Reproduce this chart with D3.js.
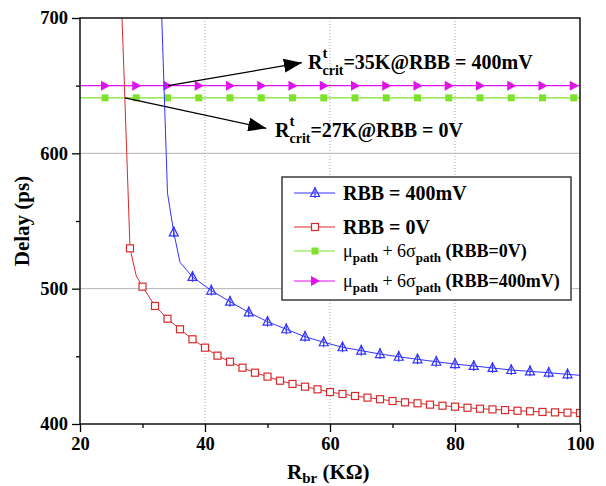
<!DOCTYPE html>
<html>
<head>
<meta charset="utf-8">
<script src="https://cdn.jsdelivr.net/npm/d3@7/dist/d3.min.js"></script>
<style>
  body { margin: 0; background: #fff; }
  svg text { font-family: "Liberation Serif", "Times New Roman", serif; }
</style>
</head>
<body>
<script>
// RBB = 400mV curve (markers every 3K from 35K)
var rbb400X = [33, 34, 35, 36, 38, 41, 44, 47, 50, 53, 56, 59, 62, 65, 68, 71, 74, 77, 80, 83, 86, 89, 92, 95, 98, 100];
var rbb400Y = [712, 570.5, 541.6, 519.5, 508.7, 498.6, 490.4, 482.5, 475.6, 470, 464.5, 460.4, 456.7, 454.2, 451.7, 449.7, 447.8, 446, 444.3, 442.9, 441.4, 439.9, 438.9, 437.9, 436.7, 436];

// RBB = 0V curve (markers every 2K from 28K)
var rbb0X = [26, 27, 28, 29, 30, 32, 34, 36, 38, 40, 42, 44, 46, 48, 50, 52, 54, 56, 58, 60, 62, 64, 66, 68, 70, 72, 74, 76, 78, 80, 82, 84, 86, 88, 90, 92, 94, 96, 98, 100];
var rbb0Y = [790, 664, 529.8, 509.4, 501.5, 487.2, 477.8, 470, 462.6, 456.4, 450.5, 446, 441.6, 437.9, 435, 432, 429.6, 427.6, 425.6, 423.6, 422.2, 420.7, 419.5, 418.3, 417, 416, 415.3, 414.3, 413.5, 412.8, 412, 411.3, 410.8, 410.3, 409.8, 409.4, 408.9, 408.6, 408.4, 408.1];

// mu + 6 sigma thresholds
var thrMarkX = [24, 29, 34, 39, 44, 49, 54, 59, 64, 69, 74, 79, 84, 89, 94, 99];
var thr0 = 641;
var thr400 = 650;

var xTicks = [20, 40, 60, 80, 100];
var xMinor = [30, 50, 70, 90];
var yTicks = [400, 500, 600, 700];
var yMinor = [450, 550, 650];

// annotation arrows: [fromX, fromY, toX, toY] in data units
var arrow400 = [34.1, 650, 55.5, 667];
var arrow0 = [27.2, 641, 49.8, 618.5];

var W = 606, H = 486;
var pL = 80, pR = 580, pT = 18, pB = 424;

var blue = '#3333ff', red = '#d82a2a', green = '#7ee22c', magenta = '#e010f0';

var svg = d3.select('body').append('svg')
  .attr('width', W)
  .attr('height', H);

var x = d3.scaleLinear().domain([20, 100]).range([pL, pR]);
var y = d3.scaleLinear().domain([400, 700]).range([pB, pT]);

var defs = svg.append('defs');
defs.append('clipPath').attr('id', 'plot')
  .append('rect')
  .attr('x', pL).attr('y', pT)
  .attr('width', pR - pL).attr('height', pB - pT);

// grid
svg.selectAll('.hgrid').data([500, 600]).enter().append('line')
  .attr('x1', pL).attr('x2', pR)
  .attr('y1', function(d) { return y(d); })
  .attr('y2', function(d) { return y(d); })
  .attr('stroke', '#b4b4b4').attr('stroke-width', 1);

svg.selectAll('.vgrid').data([40, 60, 80]).enter().append('line')
  .attr('y1', pT).attr('y2', pB)
  .attr('x1', function(d) { return x(d); })
  .attr('x2', function(d) { return x(d); })
  .attr('stroke', '#aaa').attr('stroke-width', 1)
  .attr('stroke-dasharray', '1,2');

var plot = svg.append('g').attr('clip-path', 'url(#plot)');

var line = d3.line()
  .x(function(d) { return x(d[0]); })
  .y(function(d) { return y(d[1]); });

// threshold lines
plot.append('path')
  .attr('d', line([[20, thr0], [100, thr0]]))
  .attr('stroke', green).attr('stroke-width', 1.2).attr('fill', 'none');
plot.append('path')
  .attr('d', line([[20, thr400], [100, thr400]]))
  .attr('stroke', magenta).attr('stroke-width', 1.2).attr('fill', 'none');

plot.selectAll('.gsq').data(thrMarkX).enter().append('rect')
  .attr('x', function(d) { return x(d) - 3.5; })
  .attr('y', y(thr0) - 3.5)
  .attr('width', 7).attr('height', 7)
  .attr('fill', green);

var triRight = 'M-4,-5L5,0L-4,5Z';
plot.selectAll('.mtri').data(thrMarkX).enter().append('path')
  .attr('transform', function(d) { return 'translate(' + x(d) + ',' + y(thr400) + ')'; })
  .attr('d', triRight)
  .attr('fill', magenta);

// curves
var pts400 = rbb400X.map(function(v, i) { return [v, rbb400Y[i]]; });
var pts0 = rbb0X.map(function(v, i) { return [v, rbb0Y[i]]; });

plot.append('path').attr('d', line(pts0))
  .attr('stroke', red).attr('stroke-width', 1).attr('fill', 'none');
plot.append('path').attr('d', line(pts400))
  .attr('stroke', blue).attr('stroke-width', 1).attr('fill', 'none');

var triUp = 'M0,-5L4.5,3.5L-4.5,3.5Z';

function drawTri(g, cx, cy) {
  var m = g.append('g').attr('transform', 'translate(' + cx + ',' + cy + ')');
  m.append('path').attr('d', triUp).attr('fill', 'none')
    .attr('stroke', blue).attr('stroke-width', 1.2);
  m.append('line').attr('x1', 0).attr('x2', 0).attr('y1', -6).attr('y2', 5)
    .attr('stroke', blue).attr('stroke-width', 1.2);
}

function drawSq(g, cx, cy) {
  g.append('rect')
    .attr('x', cx - 3.5).attr('y', cy - 3.5)
    .attr('width', 7).attr('height', 7)
    .attr('fill', '#fff').attr('stroke', red).attr('stroke-width', 1.2);
}

pts0.forEach(function(p) {
  if (p[0] >= 28 && p[0] % 2 === 0) drawSq(plot, x(p[0]), y(p[1]));
});
pts400.forEach(function(p) {
  if (p[0] >= 35 && (p[0] - 35) % 3 === 0) drawTri(plot, x(p[0]), y(p[1]));
});

// arrows
defs.append('marker').attr('id', 'head')
  .attr('viewBox', '0 0 18 14')
  .attr('refX', 18).attr('refY', 7)
  .attr('markerWidth', 18).attr('markerHeight', 14)
  .attr('markerUnits', 'userSpaceOnUse')
  .attr('orient', 'auto')
  .append('path').attr('d', 'M0,0L18,7L0,14Z').attr('fill', '#000');

[arrow400, arrow0].forEach(function(a) {
  svg.append('line')
    .attr('x1', x(a[0])).attr('y1', y(a[1]))
    .attr('x2', x(a[2])).attr('y2', y(a[3]))
    .attr('stroke', '#000').attr('stroke-width', 1.3)
    .attr('marker-end', 'url(#head)');
});

// text made of runs placed one after another
function runs(g, x0, y0, parts) {
  var cx = x0;
  parts.forEach(function(p) {
    var t = g.append('text')
      .attr('x', cx).attr('y', y0 + (p.dy || 0))
      .attr('font-size', p.size)
      .attr('font-weight', p.bold === false ? 'normal' : 'bold')
      .attr('fill', '#000')
      .style('white-space', 'pre')
      .text(p.t);
    cx += t.node().getComputedTextLength();
  });
}

function rcrit(g, x0, y0, rest) {
  var r = g.append('text').attr('x', x0).attr('y', y0)
    .attr('font-size', 20).attr('font-weight', 'bold').text('R');
  var cx = x0 + r.node().getComputedTextLength();
  var t = g.append('text').attr('x', cx).attr('y', y0 - 11)
    .attr('font-size', 15).attr('font-weight', 'bold').text('t');
  var c = g.append('text').attr('x', cx).attr('y', y0 + 6)
    .attr('font-size', 14).attr('font-weight', 'bold').text('crit');
  cx += Math.max(t.node().getComputedTextLength(), c.node().getComputedTextLength());
  g.append('text').attr('x', cx).attr('y', y0)
    .attr('font-size', 20).attr('font-weight', 'bold')
    .style('white-space', 'pre').text(rest);
}

rcrit(svg, 308, 69, '=35K@RBB = 400mV');
rcrit(svg, 275, 137, '=27K@RBB = 0V');

// axes
var yAxis = d3.axisLeft(y).tickValues(yTicks).tickSize(8).tickPadding(4).tickFormat(d3.format('d'));
var gy = svg.append('g').attr('transform', 'translate(' + pL + ',0)').call(yAxis);
var gyMinor = svg.append('g').attr('transform', 'translate(' + pL + ',0)')
  .call(d3.axisLeft(y).tickValues(yMinor).tickSize(4).tickFormat(''));

var xAxis = d3.axisBottom(x).tickValues(xTicks).tickSize(8).tickPadding(5).tickFormat(d3.format('d'));
var gx = svg.append('g').attr('transform', 'translate(0,' + pB + ')').call(xAxis);
var gxMinor = svg.append('g').attr('transform', 'translate(0,' + pB + ')')
  .call(d3.axisBottom(x).tickValues(xMinor).tickSize(4).tickFormat(''));

[gy, gyMinor, gx, gxMinor].forEach(function(g) {
  g.select('.domain').remove();
  g.selectAll('line').attr('stroke', '#000').attr('stroke-width', 1.3);
  g.selectAll('text')
    .attr('font-family', '"Liberation Serif", "Times New Roman", serif')
    .attr('font-size', 18.5).attr('font-weight', 'bold').attr('fill', '#000');
});

// frame
svg.append('rect')
  .attr('x', pL).attr('y', pT)
  .attr('width', pR - pL).attr('height', pB - pT)
  .attr('fill', 'none').attr('stroke', '#111').attr('stroke-width', 1.5);

// axis titles
svg.append('text')
  .attr('transform', 'translate(29,221) rotate(-90)')
  .attr('text-anchor', 'middle')
  .attr('font-size', 21).attr('font-weight', 'bold')
  .text('Delay (ps)');

runs(svg, 287, 479, [
  { t: 'R', size: 21 },
  { t: 'br', size: 15, dy: 4 },
  { t: ' (K\u03A9)', size: 21 }
]);

// legend
var lg = svg.append('g');
lg.append('rect')
  .attr('x', 282).attr('y', 177).attr('width', 289).attr('height', 123)
  .attr('fill', '#fff').attr('stroke', '#3a3a3a').attr('stroke-width', 1.5);

var lx1 = 294, lx2 = 335, lm = 315, tx = 343;

lg.append('line').attr('x1', lx1).attr('x2', lx2).attr('y1', 193).attr('y2', 193)
  .attr('stroke', blue).attr('stroke-width', 1);
drawTri(lg, lm, 193);
runs(lg, tx, 200, [{ t: 'RBB = 400mV', size: 20 }]);

lg.append('line').attr('x1', lx1).attr('x2', lx2).attr('y1', 227).attr('y2', 227)
  .attr('stroke', red).attr('stroke-width', 1);
drawSq(lg, lm, 227);
runs(lg, tx, 234, [{ t: 'RBB = 0V', size: 20 }]);

lg.append('line').attr('x1', lx1).attr('x2', lx2).attr('y1', 251).attr('y2', 251)
  .attr('stroke', green).attr('stroke-width', 1.2);
lg.append('rect').attr('x', lm - 3.5).attr('y', 251 - 3.5).attr('width', 7).attr('height', 7)
  .attr('fill', green);
runs(lg, tx, 257, [
  { t: '\u03BC', size: 18, bold: false },
  { t: 'path', size: 13, dy: 5 },
  { t: ' + 6\u03C3', size: 18, bold: false },
  { t: 'path', size: 13, dy: 5 },
  { t: ' (RBB=0V)', size: 18 }
]);

lg.append('line').attr('x1', lx1).attr('x2', lx2).attr('y1', 281).attr('y2', 281)
  .attr('stroke', magenta).attr('stroke-width', 1.2);
lg.append('path').attr('transform', 'translate(' + lm + ',281)').attr('d', triRight)
  .attr('fill', magenta);
runs(lg, tx, 287, [
  { t: '\u03BC', size: 18, bold: false },
  { t: 'path', size: 13, dy: 5 },
  { t: ' + 6\u03C3', size: 18, bold: false },
  { t: 'path', size: 13, dy: 5 },
  { t: ' (RBB=400mV)', size: 18 }
]);
</script>
</body>
</html>
